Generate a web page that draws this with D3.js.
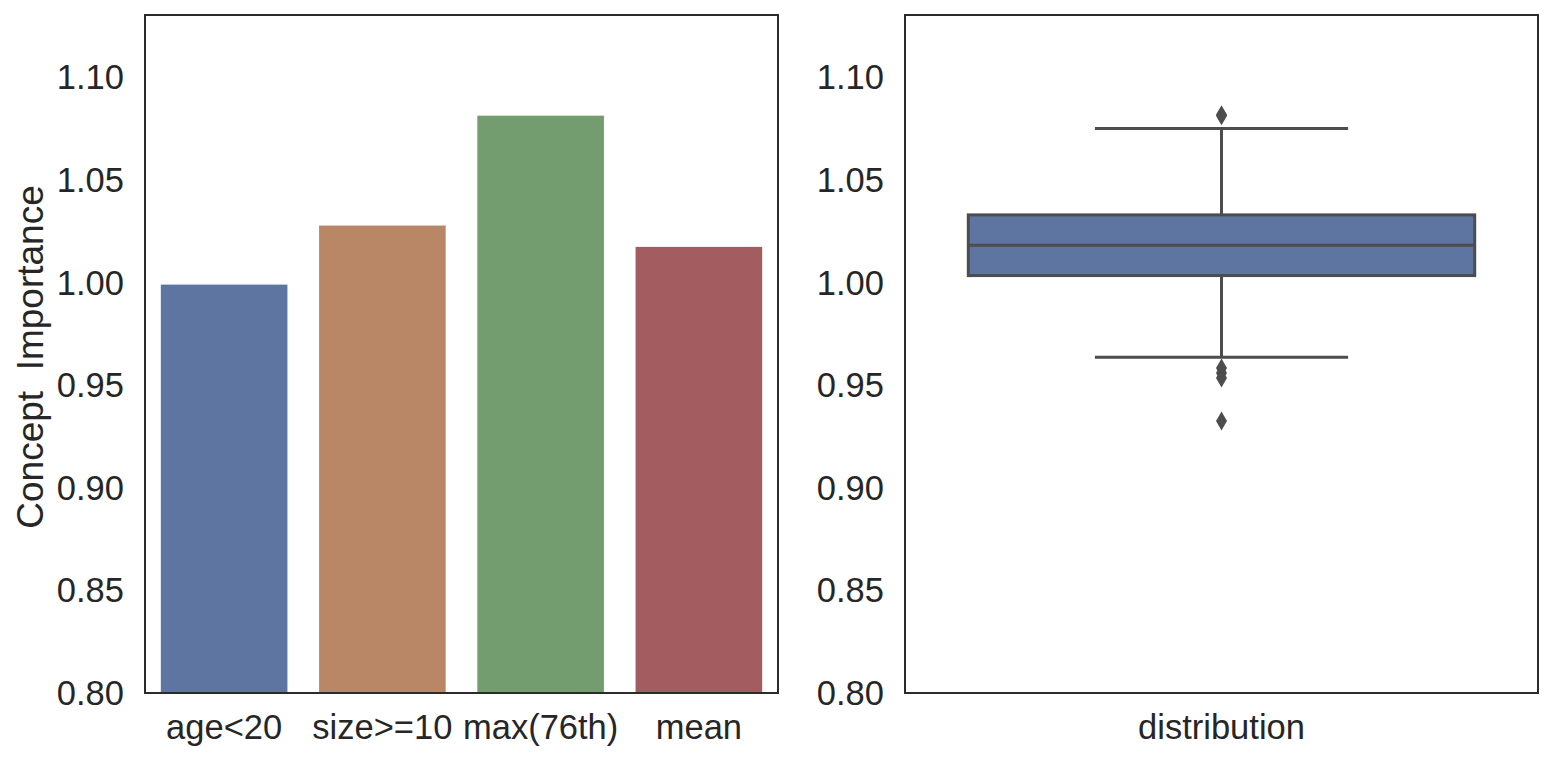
<!DOCTYPE html>
<html>
<head>
<meta charset="utf-8">
<script src="https://cdn.jsdelivr.net/npm/d3@7"></script>
<style>
  body { margin: 0; background: #fff; }
  text { font-family: "Liberation Sans", Arial, sans-serif; fill: #262626; }
</style>
</head>
<body>
<script>
// bar chart data
const categories = ['age<20', 'size>=10', 'max(76th)', 'mean'];
const importance = [0.9992, 1.0280, 1.0816, 1.0176];
const barColors = ['#5f75a1', '#b98765', '#749d6f', '#a35c60'];

// box plot summary
const boxCategory = ['distribution'];
const boxStats = { q1: 1.0036, median: 1.0184, q3: 1.0332, low: 0.9638, high: 1.0753 };
const outliers = [1.0816, 1.0820, 0.9585, 0.9561, 0.9537, 0.9327];

const yTicks = [0.80, 0.85, 0.90, 0.95, 1.00, 1.05, 1.10];
const yDomain = [0.80, 1.1307];

const width = 1554, height = 762;
const plotTop = 15, plotBottom = 693;
const panels = [{left: 145, right: 778}, {left: 905, right: 1538}];
const gray = '#4d4d4d';
const tickFont = 34.5;

const svg = d3.select('body').append('svg')
  .attr('width', width)
  .attr('height', height);

const yScale = d3.scaleLinear().domain(yDomain).range([plotBottom, plotTop]);

function drawYAxis(p) {
  const g = svg.append('g')
    .attr('transform', `translate(${p.left},0)`)
    .call(d3.axisLeft(yScale).tickValues(yTicks).tickSize(0).tickPadding(21).tickFormat(d3.format('.2f')));
  g.select('.domain').remove();
  g.selectAll('text').attr('font-size', tickFont).attr('fill', '#262626')
    .attr('font-family', '"Liberation Sans", Arial, sans-serif');
}

function drawXAxis(scale) {
  const g = svg.append('g')
    .attr('transform', `translate(0,${plotBottom})`)
    .call(d3.axisBottom(scale).tickSize(0).tickPadding(22));
  g.select('.domain').remove();
  g.selectAll('text').attr('font-size', tickFont).attr('fill', '#262626')
    .attr('font-family', '"Liberation Sans", Arial, sans-serif');
}

function drawFrame(p) {
  svg.append('rect')
    .attr('x', p.left).attr('y', plotTop)
    .attr('width', p.right - p.left).attr('height', plotBottom - plotTop)
    .attr('fill', 'none').attr('stroke', '#2b2b2b').attr('stroke-width', 2);
}

// LEFT: bars
const xBar = d3.scaleBand().domain(categories)
  .range([panels[0].left, panels[0].right]).paddingInner(0.2).paddingOuter(0.1);

svg.append('g').selectAll('rect')
  .data(categories)
  .join('rect')
  .attr('x', d => xBar(d))
  .attr('y', (d, i) => yScale(importance[i]))
  .attr('width', xBar.bandwidth())
  .attr('height', (d, i) => yScale(0.80) - yScale(importance[i]))
  .attr('fill', (d, i) => barColors[i]);

drawYAxis(panels[0]);
drawXAxis(xBar);
drawFrame(panels[0]);

svg.append('text')
  .attr('transform', `translate(43,${(plotTop + plotBottom) / 2 + 3}) rotate(-90)`)
  .attr('text-anchor', 'middle')
  .attr('font-size', 37)
  .style('white-space', 'pre')
  .text('Concept  Importance');

// RIGHT: box plot
const xBox = d3.scaleBand().domain(boxCategory)
  .range([panels[1].left, panels[1].right]).paddingInner(0.2).paddingOuter(0.1);
const cx = xBox('distribution') + xBox.bandwidth() / 2;
const bw = xBox.bandwidth();

const bx = svg.append('g');
// whisker stems
bx.append('line').attr('x1', cx).attr('x2', cx)
  .attr('y1', yScale(boxStats.q3)).attr('y2', yScale(boxStats.high))
  .attr('stroke', gray).attr('stroke-width', 3);
bx.append('line').attr('x1', cx).attr('x2', cx)
  .attr('y1', yScale(boxStats.q1)).attr('y2', yScale(boxStats.low))
  .attr('stroke', gray).attr('stroke-width', 3);
// caps
[boxStats.high, boxStats.low].forEach(v => {
  bx.append('line')
    .attr('x1', cx - bw / 4).attr('x2', cx + bw / 4)
    .attr('y1', yScale(v)).attr('y2', yScale(v))
    .attr('stroke', gray).attr('stroke-width', 3);
});
// box
bx.append('rect')
  .attr('x', xBox('distribution'))
  .attr('y', yScale(boxStats.q3))
  .attr('width', bw)
  .attr('height', yScale(boxStats.q1) - yScale(boxStats.q3))
  .attr('fill', '#5f75a1').attr('stroke', gray).attr('stroke-width', 3);
// median
bx.append('line')
  .attr('x1', xBox('distribution')).attr('x2', xBox('distribution') + bw)
  .attr('y1', yScale(boxStats.median)).attr('y2', yScale(boxStats.median))
  .attr('stroke', gray).attr('stroke-width', 3);
// outliers, thin diamonds
bx.selectAll('path.out')
  .data(outliers)
  .join('path')
  .attr('class', 'out')
  .attr('d', 'M0,-9.5L5.5,0L0,9.5L-5.5,0Z')
  .attr('transform', d => `translate(${cx},${yScale(d)})`)
  .attr('fill', gray);

drawYAxis(panels[1]);
drawXAxis(xBox);
drawFrame(panels[1]);
</script>
</body>
</html>
